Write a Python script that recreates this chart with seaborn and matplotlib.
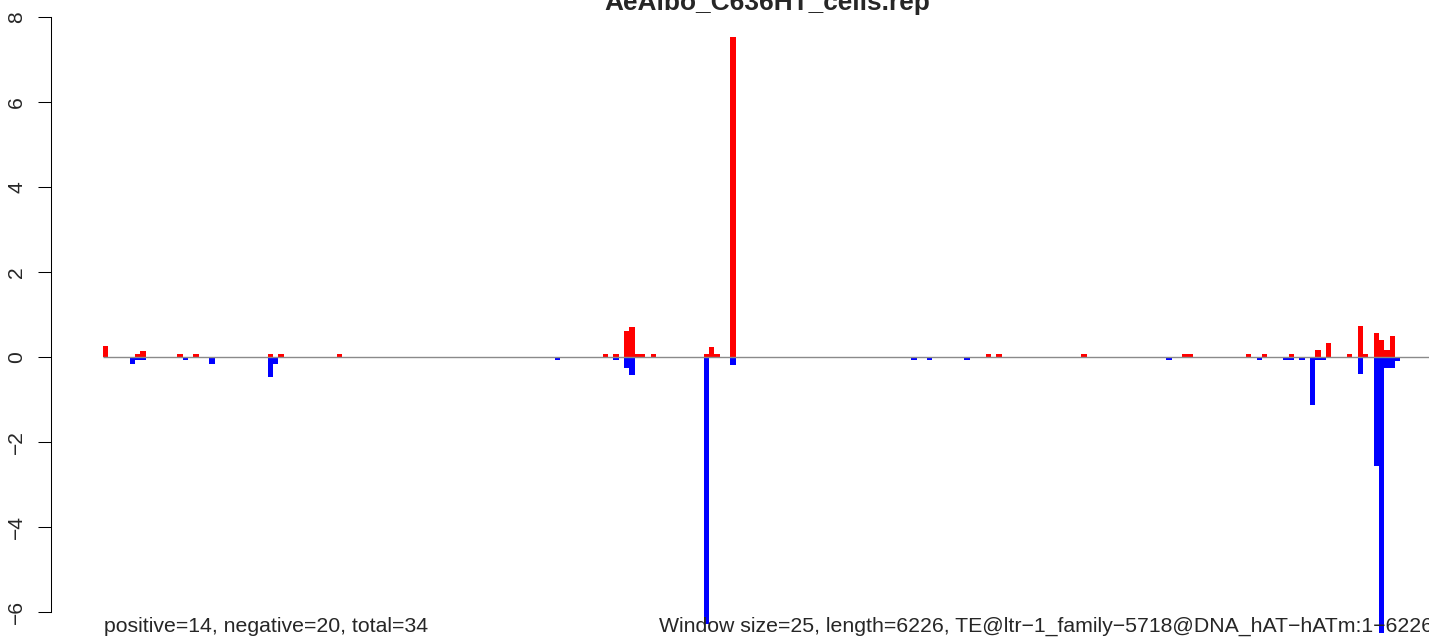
import matplotlib
matplotlib.use("Agg")
import matplotlib.pyplot as plt
import pandas as pd
import seaborn as sns

# ---- data (window index, value) ----
pos_idx = [0, 6, 7, 14, 17, 31, 33, 44, 94, 96, 98, 99, 100, 101, 103, 113, 114, 115, 118,
           166, 168, 184, 203, 204, 215, 218, 223, 228, 230, 234, 236, 237, 239, 240, 241, 242]
pos_val = [0.25, 0.08, 0.15, 0.08, 0.08, 0.08, 0.08, 0.08, 0.08, 0.08, 0.61, 0.71, 0.08, 0.08,
           0.08, 0.08, 0.24, 0.08, 7.53, 0.08, 0.08, 0.08, 0.08, 0.08, 0.08, 0.08, 0.08, 0.16,
           0.32, 0.08, 0.72, 0.08, 0.56, 0.39, 0.16, 0.49]
neg_idx = [5, 6, 7, 15, 20, 31, 32, 85, 96, 98, 99, 113, 118, 152, 155, 162, 200, 217, 222,
           223, 225, 227, 228, 229, 236, 239, 240, 241, 242, 243]
neg_val = [-0.17, -0.08, -0.08, -0.08, -0.17, -0.48, -0.17, -0.08, -0.08, -0.25, -0.42, -6.28,
           -0.18, -0.08, -0.08, -0.08, -0.08, -0.08, -0.08, -0.08, -0.08, -1.12, -0.08, -0.08,
           -0.41, -2.56, -6.50, -0.25, -0.25, -0.09]
y_ticks = [-6, -4, -2, 0, 2, 4, 6, 8]
title = "AeAlbo_C636HT_cells.rep"
left_note = "positive=14, negative=20, total=34"
right_note = "Window size=25, length=6226, TE@ltr\u22121_family\u22125718@DNA_hAT\u2212hATm:1\u22126226"

sns.set_style("white")
plt.rcParams["font.family"] = ["Liberation Sans", "DejaVu Sans"]

W, H = 1429, 639
AX_L, AX_R = 51, 1483
fig = plt.figure(figsize=(W / 100, H / 100), dpi=100)
ax = fig.add_axes([AX_L / W, (H - 657) / H, (AX_R - AX_L) / W, 644 / H])

pos_df = pd.DataFrame({"window": pos_idx, "value": pos_val})
neg_df = pd.DataFrame({"window": neg_idx, "value": neg_val})
for df, col in [(pos_df, "#FF0000"), (neg_df, "#0000FF")]:
    sns.barplot(data=df, x="window", y="value", native_scale=True, orient="x",
                color=col, saturation=1, width=1.0, errorbar=None,
                linewidth=0, ax=ax)

ax.hlines(0, -0.5, 300, color="#8a8a8a", lw=1.0, zorder=3)

s = 5.317
xl = -0.5 - (103 - AX_L) / s
ax.set_xlim(xl, xl + (AX_R - AX_L) / s)
ax.set_ylim(-6 - 45 / 42.5, 8 + 4 / 42.5)

for side in ["top", "right", "bottom"]:
    ax.spines[side].set_visible(False)
ax.spines["left"].set_bounds(-6, 8)
ax.spines["left"].set_linewidth(0.75)
ax.spines["left"].set_color("black")
ax.set_xticks([])
ax.set_yticks(y_ticks)
ax.set_yticklabels([str(t).replace("-", "\u2212") for t in y_ticks])
ax.tick_params(axis="y", left=True, direction="out", length=9.4, width=0.75,
               color="black", labelsize=15.1, pad=8.4, labelrotation=90)
for lbl in ax.get_yticklabels():
    lbl.set_va("center")
ax.set_xlabel("")
ax.set_ylabel("")

fig.text(767 / W, 1 - 10 / H, title, ha="center", va="baseline",
         fontsize=18.9, fontweight="bold")
fig.text(104 / W, 1 - 632 / H, left_note, ha="left", va="baseline", fontsize=15.3)
fig.text(659 / W, 1 - 632 / H, right_note, ha="left", va="baseline", fontsize=15.3)

fig.savefig("out.png", dpi=100)
